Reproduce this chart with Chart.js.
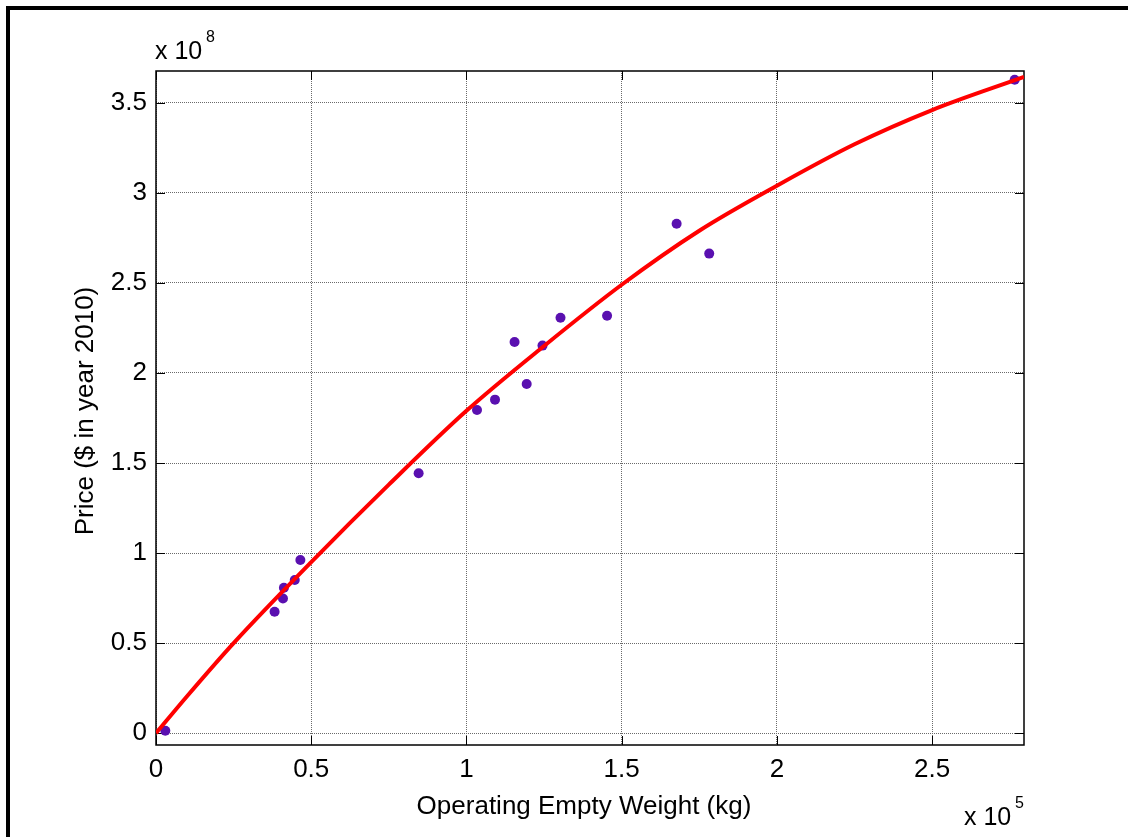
<!DOCTYPE html>
<html>
<head>
<meta charset="utf-8">
<script src="https://cdn.jsdelivr.net/npm/chart.js@4"></script>
<style>
    html, body { margin: 0; padding: 0; background: #fff; }
    #wrap { position: relative; width: 1128px; height: 837px; overflow: hidden; }
    #priceChart { position: absolute; left: 0; top: 0; }
    /* กรอบดำหนาด้านบนและซ้ายของภาพ */
    #edge { position: absolute; left: 6px; top: 6px; width: 1200px; height: 900px;
            border-top: 4px solid #000; border-left: 4px solid #000; pointer-events: none; }
</style>
</head>
<body>
<div id="wrap">
    <canvas id="priceChart" width="1128" height="837"></canvas>
    <div id="edge"></div>
</div>
<script>
// x in units of 1e5 kg, y in units of 1e8 $
const pointWeight = [0.03, 0.382, 0.409, 0.412, 0.447, 0.465, 0.846, 1.034, 1.092, 1.155, 1.194, 1.245, 1.303, 1.453, 1.677, 1.782, 2.766];
const pointPrice  = [0.013, 0.674, 0.748, 0.807, 0.85, 0.961, 1.443, 1.794, 1.852, 2.172, 1.939, 2.152, 2.307, 2.318, 2.829, 2.663, 3.628];

// red fit curve
const curveWeight = [0, 0.1, 0.25, 0.5, 0.75, 1.0, 1.25, 1.5, 1.75, 2.0, 2.25, 2.5, 2.796];
const curvePrice  = [0, 0.205, 0.50, 0.95, 1.38, 1.79, 2.15, 2.49, 2.79, 3.04, 3.27, 3.46, 3.644];

const xTicks = [0, 0.5, 1, 1.5, 2, 2.5];
const yTicks = [0, 0.5, 1, 1.5, 2, 2.5, 3, 3.5];

const xTitle = 'Operating Empty Weight (kg)';
const yTitle = 'Price ($ in year 2010)';

const FONT = '"Liberation Sans", Arial, sans-serif';

// กรอบแกน + ขีด tick ด้านใน + ข้อความแกน
const matlabAxes = {
    id: 'matlabAxes',
    beforeDatasetsDraw(chart) {
        const { ctx, chartArea: a, scales } = chart;
        ctx.save();
        ctx.strokeStyle = '#000';
        ctx.lineWidth = 1;
        ctx.beginPath();
        xTicks.forEach(v => {
            const px = Math.round(scales.x.getPixelForValue(v)) + 0.5;
            ctx.moveTo(px, a.bottom); ctx.lineTo(px, a.bottom - 9);
            ctx.moveTo(px, a.top); ctx.lineTo(px, a.top + 9);
        });
        yTicks.forEach(v => {
            const py = Math.round(scales.y.getPixelForValue(v)) + 0.5;
            ctx.moveTo(a.left, py); ctx.lineTo(a.left + 9, py);
            ctx.moveTo(a.right, py); ctx.lineTo(a.right - 9, py);
        });
        ctx.stroke();
        ctx.lineWidth = 1.5;
        ctx.strokeRect(a.left, a.top, a.right - a.left, a.bottom - a.top);
        ctx.restore();
    },
    afterDraw(chart) {
        const { ctx } = chart;
        ctx.save();
        ctx.fillStyle = '#000';
        ctx.textBaseline = 'alphabetic';

        ctx.font = '26px ' + FONT;
        ctx.textAlign = 'center';
        ctx.fillText(xTitle, 584, 814);

        ctx.save();
        ctx.translate(93, 411);
        ctx.rotate(-Math.PI / 2);
        ctx.fillText(yTitle, 0, 0);
        ctx.restore();

        // exponent labels
        ctx.font = '25px ' + FONT;
        ctx.textAlign = 'left';
        ctx.fillText('x 10', 155, 59);
        ctx.fillText('x 10', 964, 825);
        ctx.font = '16px ' + FONT;
        ctx.fillText('8', 206, 42);
        ctx.fillText('5', 1015, 808);
        ctx.restore();
    }
};

const gridStyle = { color: '#6a6a6a', lineWidth: 1, drawTicks: false };

new Chart(document.getElementById('priceChart').getContext('2d'), {
    type: 'scatter',
    data: {
        datasets: [{
            label: 'fit',
            data: curveWeight.map((w, i) => ({ x: w, y: curvePrice[i] })),
            showLine: true,
            borderColor: '#ff0000',
            borderWidth: 4,
            pointRadius: 0,
            cubicInterpolationMode: 'monotone',
            fill: false
        }, {
            label: 'aircraft',
            data: pointWeight.map((w, i) => ({ x: w, y: pointPrice[i] })),
            backgroundColor: '#5a10b0',
            borderWidth: 0,
            pointRadius: 5
        }]
    },
    options: {
        responsive: false,
        animation: false,
        devicePixelRatio: 1,
        layout: { padding: { left: 0, top: 71, right: 104, bottom: 0 } },
        plugins: { legend: { display: false }, tooltip: { enabled: false } },
        scales: {
            x: {
                type: 'linear',
                min: 0,
                max: 2.796,
                afterBuildTicks: s => { s.ticks = xTicks.map(v => ({ value: v })); },
                afterFit: s => { s.height = 92; },
                grid: gridStyle,
                border: { display: false, dash: [1, 1] },
                ticks: { color: '#000', padding: 9, maxRotation: 0, font: { family: FONT, size: 26 }, callback: v => String(v) }
            },
            y: {
                type: 'linear',
                min: -0.066,
                max: 3.677,
                afterBuildTicks: s => { s.ticks = yTicks.map(v => ({ value: v })); },
                afterFit: s => { s.width = 156; },
                grid: gridStyle,
                border: { display: false, dash: [1, 1] },
                ticks: { color: '#000', padding: 9, font: { family: FONT, size: 26 }, callback: v => String(v) }
            }
        }
    },
    plugins: [matlabAxes]
});
</script>
</body>
</html>
